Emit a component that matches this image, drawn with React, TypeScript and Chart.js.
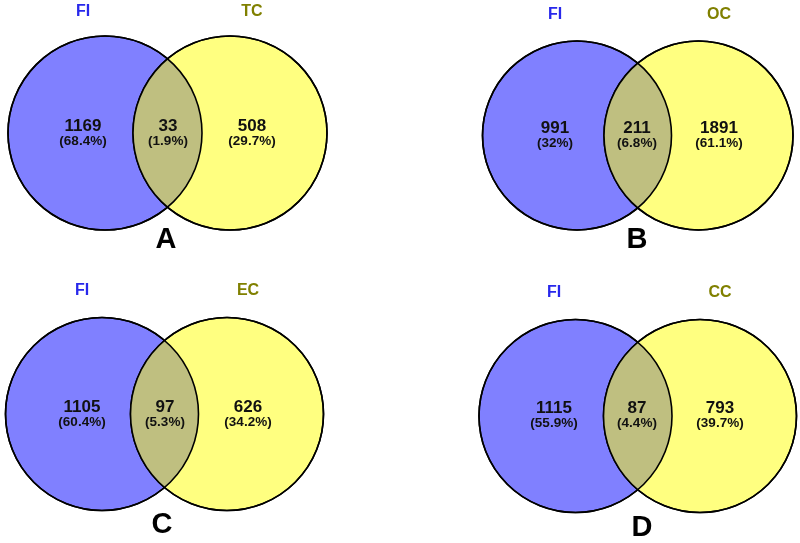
import React, { useEffect, useRef } from "react";
import { Chart, registerables } from "chart.js";

Chart.register(...registerables);

// ---- data ----
const panelLetters = ["A", "B", "C", "D"];
const setNamesLeft = ["FI", "FI", "FI", "FI"];
const setNamesRight = ["TC", "OC", "EC", "CC"];
const onlyLeft = [1169, 991, 1105, 1115];
const shared = [33, 211, 97, 87];
const onlyRight = [508, 1891, 626, 793];
const pctLeft = ["68.4%", "32%", "60.4%", "55.9%"];
const pctShared = ["1.9%", "6.8%", "5.3%", "4.4%"];
const pctRight = ["29.7%", "61.1%", "34.2%", "39.7%"];

// ---- layout (pixel-space coordinates on an 800x543 linear grid) ----
const layout = [
  { cxL: 105, cxR: 230, cy: 133, r: 97, lx: [83, 168, 252], ly: 126, titleY: 12, letter: [166, 240] },
  { cxL: 577, cxR: 698.5, cy: 135.5, r: 94.5, lx: [555, 637, 719], ly: 128, titleY: 15, letter: [637, 240] },
  { cxL: 102, cxR: 227, cy: 414, r: 96.5, lx: [82, 165, 248], ly: 407, titleY: 291, letter: [162, 525] },
  { cxL: 575.5, cxR: 700, cy: 416, r: 96.5, lx: [554, 637, 720], ly: 408, titleY: 293, letter: [642, 528] },
];

const BLUE = "rgb(128,128,255)";
const YELLOW = "rgb(255,255,128)";
const OVERLAP = "rgb(191,191,128)";
const FONT = '"Liberation Sans", Arial, sans-serif';

const vennPlugin = {
  id: "vennText",
  afterDatasetsDraw(chart: any) {
    const { ctx, scales } = chart;
    const xs = scales.x;
    const ys = scales.y;
    ctx.save();
    layout.forEach((L, i) => {
      const xL = xs.getPixelForValue(L.cxL);
      const xR = xs.getPixelForValue(L.cxR);
      const y = ys.getPixelForValue(L.cy);
      const r = xs.getPixelForValue(L.cxL + L.r) - xL;
      // overlap
      ctx.save();
      ctx.beginPath();
      ctx.arc(xL, y, r, 0, Math.PI * 2);
      ctx.clip();
      ctx.beginPath();
      ctx.arc(xR, y, r, 0, Math.PI * 2);
      ctx.fillStyle = OVERLAP;
      ctx.fill();
      ctx.restore();
      // outlines
      ctx.lineWidth = 1.6;
      ctx.strokeStyle = "#000";
      ctx.beginPath();
      ctx.arc(xL, y, r, 0, Math.PI * 2);
      ctx.stroke();
      ctx.beginPath();
      ctx.arc(xR, y, r, 0, Math.PI * 2);
      ctx.stroke();

      ctx.textAlign = "center";
      ctx.textBaseline = "middle";
      // titles
      const ty = ys.getPixelForValue(L.titleY);
      ctx.font = `bold 16px ${FONT}`;
      ctx.fillStyle = "rgb(40,40,235)";
      ctx.fillText(setNamesLeft[i], xs.getPixelForValue(L.lx[0]), ty);
      ctx.fillStyle = "rgb(128,128,0)";
      ctx.fillText(setNamesRight[i], xs.getPixelForValue(L.lx[2]), ty);
      // counts
      const counts = [onlyLeft[i], shared[i], onlyRight[i]];
      const pcts = [pctLeft[i], pctShared[i], pctRight[i]];
      const cyPix = ys.getPixelForValue(L.ly);
      const pyPix = ys.getPixelForValue(L.ly + 15);
      ctx.fillStyle = "#111";
      for (let k = 0; k < 3; k++) {
        const px = xs.getPixelForValue(L.lx[k]);
        ctx.font = `bold 17px ${FONT}`;
        ctx.fillText(String(counts[k]), px, cyPix);
        ctx.font = `bold 13.5px ${FONT}`;
        ctx.fillText(`(${pcts[k]})`, px, pyPix);
      }
      // panel letter
      ctx.font = `bold 29px ${FONT}`;
      ctx.fillStyle = "#000";
      ctx.fillText(panelLetters[i], xs.getPixelForValue(L.letter[0]), ys.getPixelForValue(L.letter[1]));
    });
    ctx.restore();
  },
};

export default function App() {
  const ref = useRef<HTMLCanvasElement | null>(null);
  useEffect(() => {
    document.body.style.margin = "0";
    const canvas = ref.current;
    if (!canvas) return;
    const chart = new Chart(canvas, {
      type: "bubble",
      data: {
        datasets: [
          {
            label: "left",
            data: layout.map((L) => ({ x: L.cxL, y: L.cy, r: L.r })),
            backgroundColor: BLUE,
            borderColor: "#000",
            borderWidth: 1.6,
            clip: false,
            order: 2,
          } as any,
          {
            label: "right",
            data: layout.map((L) => ({ x: L.cxR, y: L.cy, r: L.r })),
            backgroundColor: YELLOW,
            borderColor: "#000",
            borderWidth: 1.6,
            clip: false,
            order: 1,
          } as any,
        ],
      },
      options: {
        animation: false,
        responsive: false,
        maintainAspectRatio: false,
        devicePixelRatio: 1,
        layout: { padding: 0, autoPadding: false },
        plugins: { legend: { display: false }, tooltip: { enabled: false }, title: { display: false } },
        events: [],
        scales: {
          x: { type: "linear", min: 0, max: 800, display: false },
          y: { type: "linear", min: 0, max: 543, reverse: true, display: false },
        },
      },
      plugins: [vennPlugin],
    });
    return () => chart.destroy();
  }, []);
  return (
    <div style={{ width: 800, height: 543, background: "#fff" }}>
      <canvas ref={ref} width={800} height={543} style={{ display: "block" }} />
    </div>
  );
}
